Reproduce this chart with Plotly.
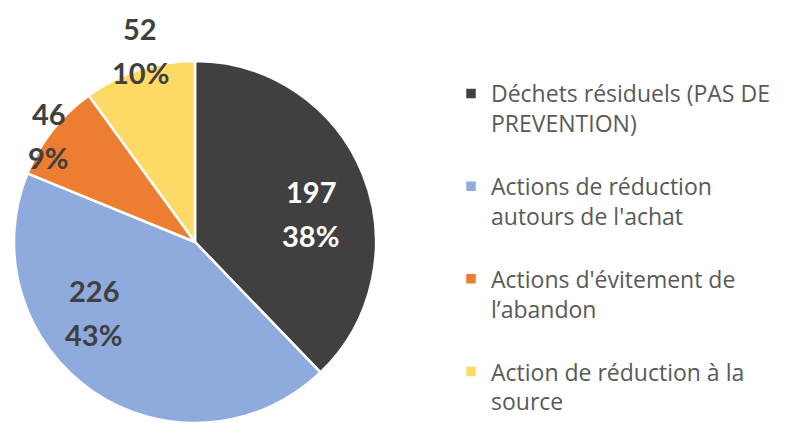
import math
import plotly.graph_objects as go

categories = [
    "Déchets résiduels (PAS DE<br>PREVENTION)",
    "Actions de réduction<br>autours de l'achat",
    "Actions d'évitement de<br>l’abandon",
    "Action de réduction à la<br>source",
]
values = [197, 226, 46, 52]
colors = ["#404040", "#8FAADC", "#ED7D31", "#FFD966"]
label_colors = ["#FFFFFF", "#404040", "#404040", "#404040"]

# label placement style (Excel "best fit"): radius fraction and angular shift (deg)
label_radius = [0.66, 0.68, 1.0, 1.1]
label_shift = [8, 21, -2, 2]

W, H = 795, 423
PIE_L, PIE_R, PIE_T = 14, 376, 61
dom_x = [PIE_L / W, PIE_R / W]
dom_y = [0.0, 1 - PIE_T / H]
cx = (PIE_L + PIE_R) / 2
radius = (PIE_R - PIE_L) / 2
cy = PIE_T + radius

total = sum(values)

fig = go.Figure(
    go.Pie(
        labels=[c + "<br>\u00a0" for c in categories],
        values=values,
        sort=False,
        direction="clockwise",
        rotation=0,
        marker=dict(colors=colors, line=dict(color="#FFFFFF", width=2.5)),
        textinfo="none",
        domain=dict(x=dom_x, y=dom_y),
        hoverinfo="label+value+percent",
    )
)

annotations = []
cum = 0
for v, rf, sh, col in zip(values, label_radius, label_shift, label_colors):
    mid = (cum + v / 2) / total * 360 + sh
    cum += v
    px = cx + rf * radius * math.sin(math.radians(mid))
    py = cy - rf * radius * math.cos(math.radians(mid))
    for txt, ys in ((str(v), 22), (f"{round(100 * v / total)}%", -22)):
        annotations.append(
            dict(
                x=px / W,
                y=1 - py / H,
                xref="paper",
                yref="paper",
                text=txt,
                showarrow=False,
                xanchor="center",
                yanchor="middle",
                yshift=ys,
                font=dict(family="Lato", size=29, color=col, weight="bold"),
            )
        )

fig.update_layout(
    width=W,
    height=H,
    autosize=False,
    margin=dict(l=0, r=0, t=0, b=0, autoexpand=False),
    paper_bgcolor="#FFFFFF",
    plot_bgcolor="#FFFFFF",
    showlegend=True,
    annotations=annotations,
    legend=dict(
        x=451 / W,
        xanchor="left",
        y=1 - 72 / H,
        yanchor="top",
        valign="top",
        font=dict(family="Open Sans", size=23, color="#595959"),
        traceorder="normal",
        bgcolor="rgba(0,0,0,0)",
    ),
)

fig.write_html(
    "out.html",
    config={"displayModeBar": False},
    post_script="document.body.style.margin='0px';document.body.style.overflow='hidden';",
)
